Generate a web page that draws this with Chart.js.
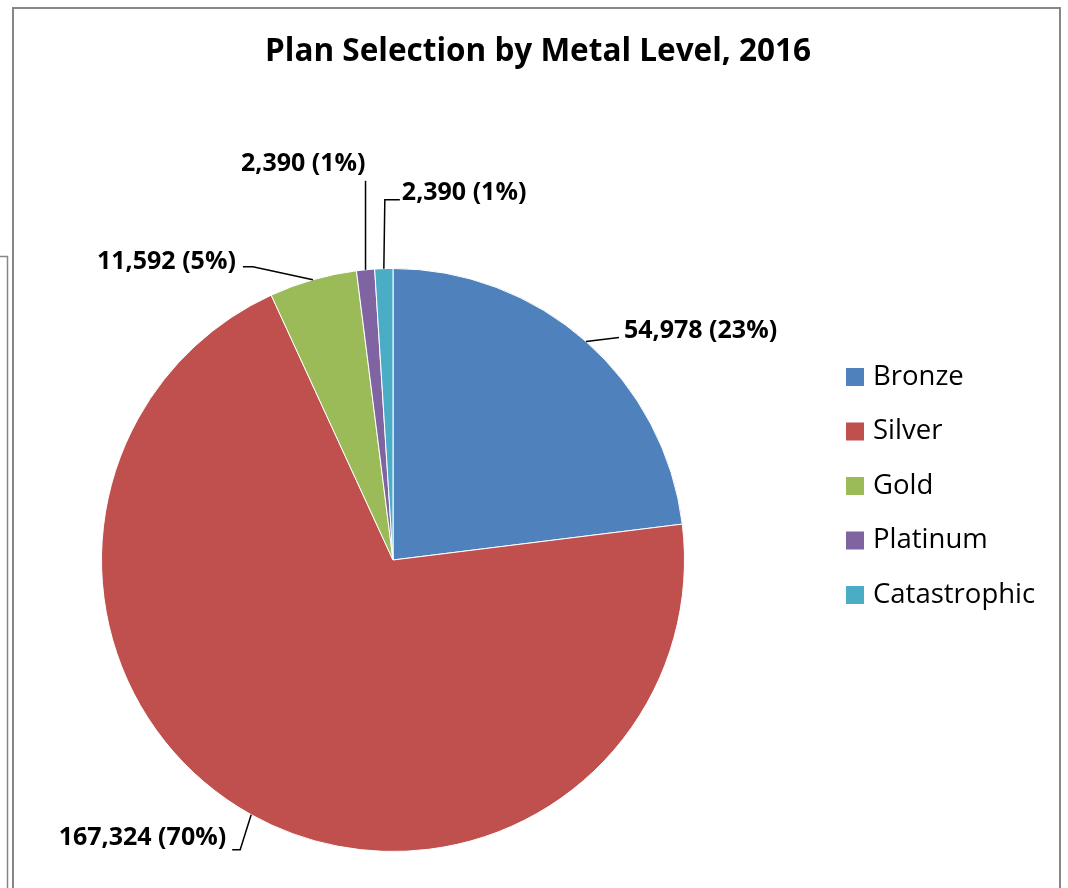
<!DOCTYPE html>
<html>
<head>
<meta charset="utf-8">
<title>Plan Selection by Metal Level, 2016</title>
<script src="https://cdn.jsdelivr.net/npm/chart.js@4.4.1/dist/chart.umd.min.js"></script>
<style>
  html, body { margin: 0; padding: 0; background: #ffffff; }
  #wrap { position: relative; width: 1068px; height: 888px; }
</style>
</head>
<body>
<div id="wrap"><canvas id="chart" width="1068" height="888"></canvas></div>
<script>
// Enrollment by metal level
const categories = ['Bronze', 'Silver', 'Gold', 'Platinum', 'Catastrophic'];
const enrollment = [54978, 167324, 11592, 2390, 2390];
const sliceColors = ['#4F81BD', '#C0504D', '#9BBB59', '#8064A2', '#4BACC6'];
const chartTitle = 'Plan Selection by Metal Level, 2016';

const FONT = '"Open Sans", Lato, sans-serif';

// Leader-line routing for each data label, relative to the slice's outer midpoint.
// path: extra bends after the edge point; text: where the label sits and its alignment.
const labelLayout = [
  { path: [[33, -4]], text: [38, -11], align: 'left' },
  { path: [[-11, 35], [-19, 35]], text: [-25, 23], align: 'right' },
  { path: [[-60, -13], [-70, -13]], text: [-77, -18], align: 'right' },
  { path: [[0, -89]], text: [0, -106], align: 'right' },
  { path: [[1, -69], [16, -69]], text: [18, -76], align: 'left' }
];

const formatLabel = (v, total) =>
  v.toLocaleString('en-US') + ' (' + Math.round(v / total * 100) + '%)';

const decorations = {
  id: 'decorations',
  beforeDraw(chart) {
    const ctx = chart.ctx;
    ctx.save();
    ctx.fillStyle = '#ffffff';
    ctx.fillRect(0, 0, chart.width, chart.height);
    // chart frames
    ctx.strokeStyle = '#878787';
    ctx.lineWidth = 2;
    ctx.strokeRect(13, 8, 1047, 900);
    ctx.lineWidth = 1.5;
    ctx.beginPath();
    ctx.moveTo(0, 256.5);
    ctx.lineTo(7.5, 256.5);
    ctx.lineTo(7.5, 900);
    ctx.stroke();
    ctx.restore();
  },
  afterDraw(chart) {
    const ctx = chart.ctx;
    const meta = chart.getDatasetMeta(0);
    const data = chart.data.datasets[0].data;
    const total = data.reduce((a, b) => a + b, 0);
    ctx.save();

    // title
    ctx.fillStyle = '#000000';
    ctx.font = 'bold 31.5px ' + FONT;
    ctx.textAlign = 'center';
    ctx.textBaseline = 'middle';
    ctx.fillText(chartTitle, 538, 52);

    // data labels with leader lines
    ctx.font = 'bold 25px ' + FONT;
    ctx.strokeStyle = '#000000';
    ctx.lineWidth = 1.5;
    meta.data.forEach((arc, i) => {
      const mid = (arc.startAngle + arc.endAngle) / 2;
      const ex = arc.x + Math.cos(mid) * arc.outerRadius;
      const ey = arc.y + Math.sin(mid) * arc.outerRadius;
      const lay = labelLayout[i];
      ctx.beginPath();
      ctx.moveTo(ex, ey);
      lay.path.forEach(p => ctx.lineTo(ex + p[0], ey + p[1]));
      ctx.stroke();
      ctx.textAlign = lay.align;
      ctx.textBaseline = 'middle';
      ctx.fillText(formatLabel(data[i], total), ex + lay.text[0], ey + lay.text[1]);
    });

    // legend
    ctx.font = '27.5px ' + FONT;
    ctx.textAlign = 'left';
    ctx.textBaseline = 'middle';
    chart.data.labels.forEach((lbl, i) => {
      const y = 377 + i * 54.5;
      ctx.fillStyle = sliceColors[i];
      ctx.fillRect(846, y - 9, 18, 18);
      ctx.fillStyle = '#000000';
      ctx.fillText(lbl, 873, y);
    });
    ctx.restore();
  }
};

new Chart(document.getElementById('chart'), {
  type: 'pie',
  data: {
    labels: categories,
    datasets: [{
      data: enrollment,
      backgroundColor: sliceColors,
      borderColor: '#ffffff',
      borderWidth: 1
    }]
  },
  options: {
    responsive: false,
    animation: false,
    layout: { padding: { left: 101, right: 383, top: 268, bottom: 36 } },
    plugins: {
      legend: { display: false },
      title: { display: false },
      tooltip: { enabled: false }
    }
  },
  plugins: [decorations]
});
</script>
</body>
</html>
